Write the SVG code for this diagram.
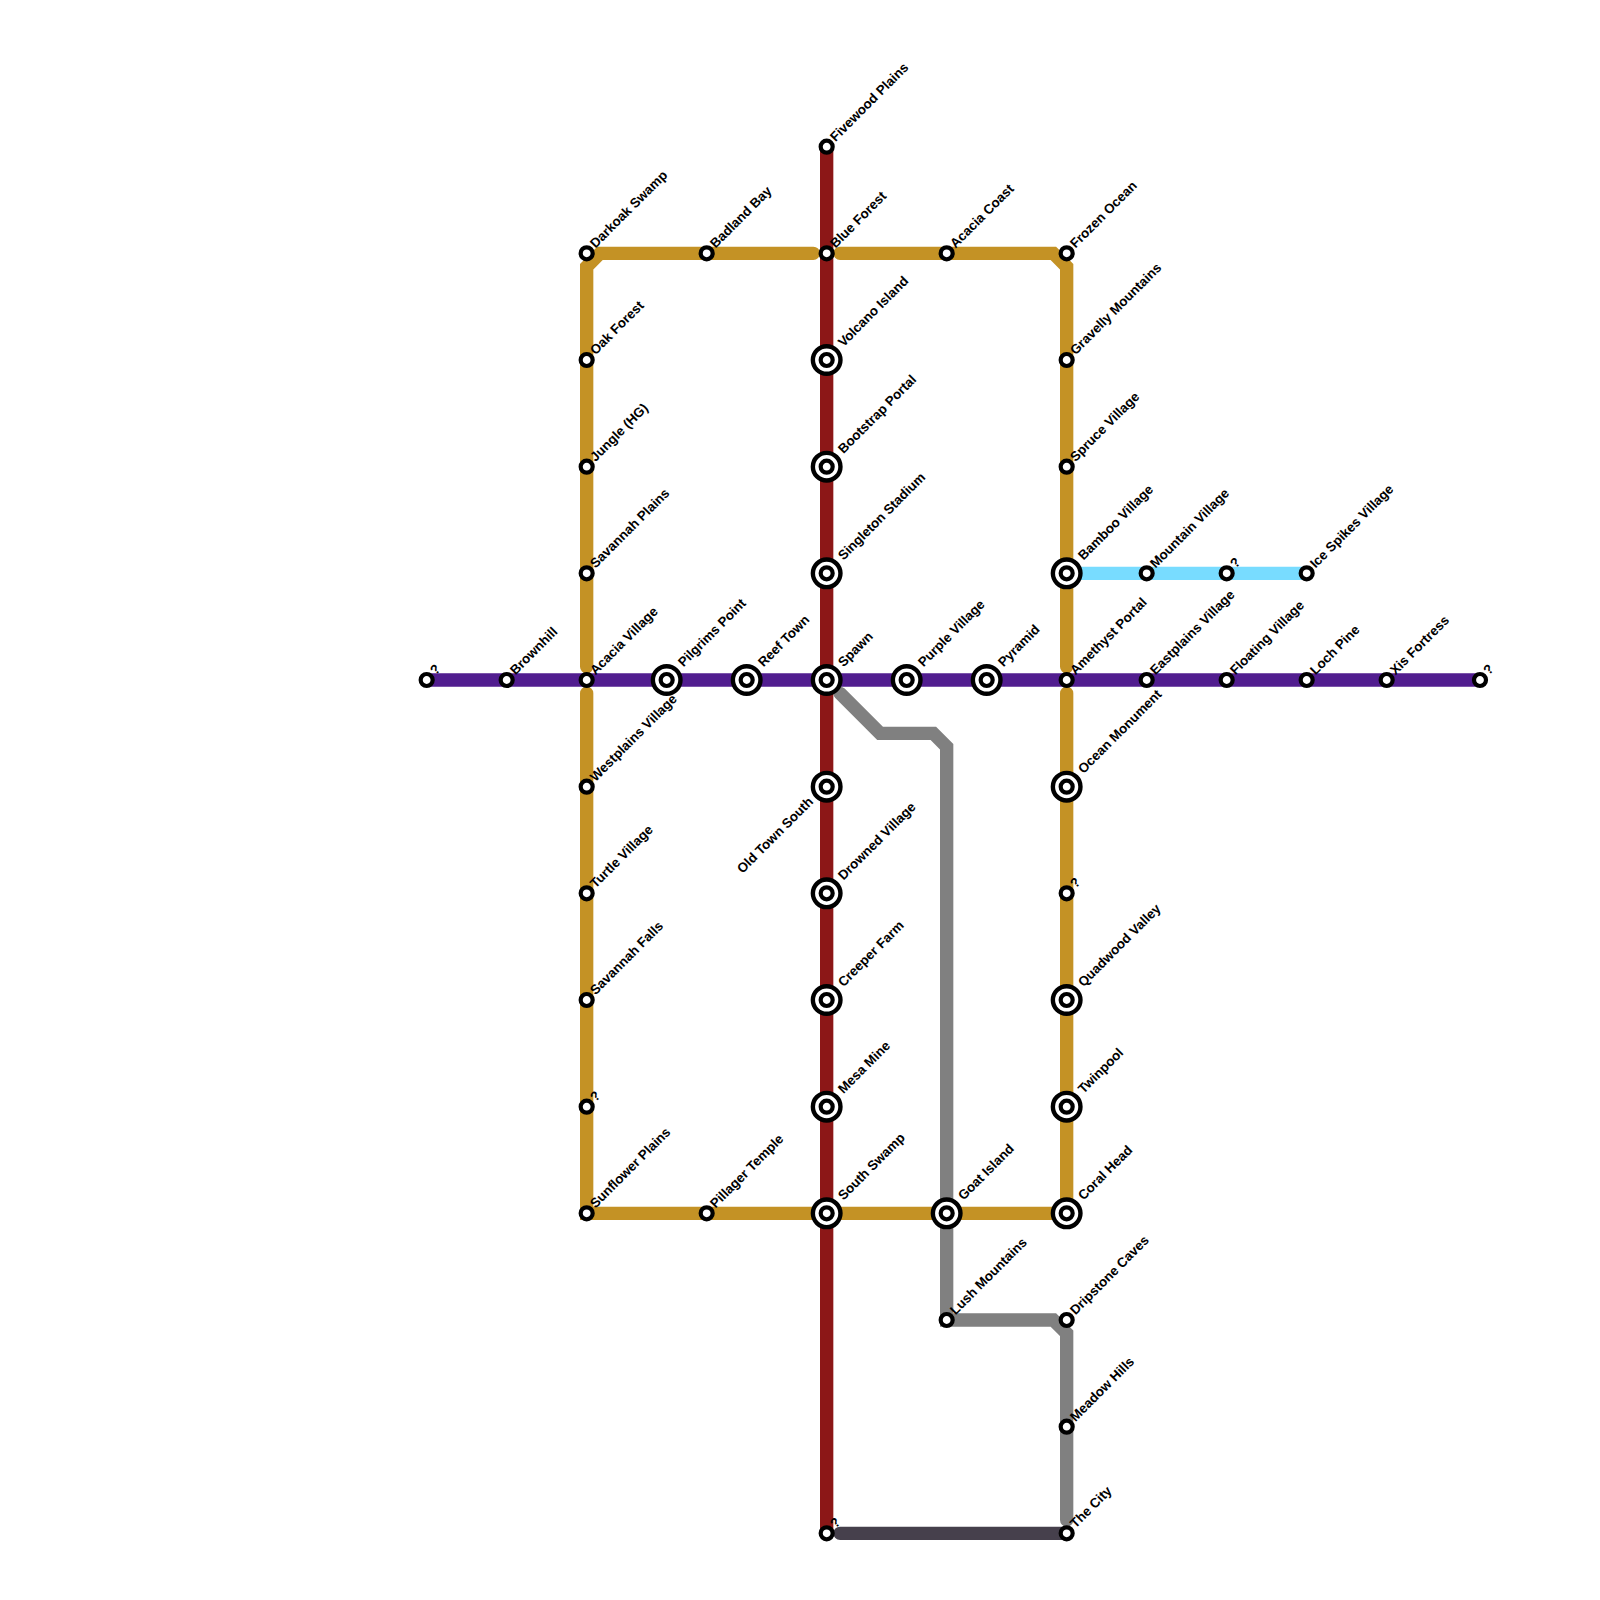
<svg xmlns="http://www.w3.org/2000/svg" width="1600" height="1600" viewBox="0 0 1600 1600">
<defs><style>
.l{fill:none;stroke-width:13.33;stroke-linecap:round;stroke-linejoin:miter}
.o{fill:#fff;stroke:#000;stroke-width:4.2}
.r{fill:#fff;stroke:#000;stroke-width:4.4}
.t{font-family:"Liberation Sans",Arial,sans-serif;font-size:13.33px;font-weight:700;fill:#000;text-rendering:geometricPrecision}
</style>
<g id="s"><circle class="o" r="6"/></g>
<g id="b"><circle class="r" r="13.8"/><circle class="o" r="6"/></g>
</defs>
<rect width="1600" height="1600" fill="#fff"/>
<g id="connectors">
<path class="l" stroke="#c49225" d="M813.33 253.33H600L586.67 266.67V666.67M840 253.33H1053.33L1066.67 266.67V666.67M1066.67 693.33V1213.33H586.67V693.33"/>
<path class="l" stroke="#808080" d="M840 693.33L880 733.33H933.33L946.67 746.67V1320H1053.33L1066.67 1333.33V1520"/>
<path class="l" stroke="#46404c" d="M840 1533.33H1066.67"/>
<path class="l" stroke="#78dcff" d="M1066.67 573.33H1306.67"/>
<path class="l" stroke="#8c1717" style="stroke-linecap:butt" d="M826.67 146.67V1533.33"/>
<path class="l" stroke="#511d8f" d="M426.67 680H1480"/>
</g>
<g id="n1"><use href="#s" x="826.67" y="146.67"/><text class="t" transform="translate(835.4 142.17) rotate(-45)">Fivewood Plains</text></g>
<g id="n2"><use href="#s" x="586.67" y="253.33"/><text class="t" transform="translate(595.4 248.83) rotate(-45)">Darkoak Swamp</text></g>
<g id="n3"><use href="#s" x="706.67" y="253.33"/><text class="t" transform="translate(715.4 248.83) rotate(-45)">Badland Bay</text></g>
<g id="n4"><use href="#s" x="826.67" y="253.33"/><text class="t" transform="translate(835.4 248.83) rotate(-45)">Blue Forest</text></g>
<g id="n5"><use href="#s" x="946.67" y="253.33"/><text class="t" transform="translate(955.4 248.83) rotate(-45)">Acacia Coast</text></g>
<g id="n6"><use href="#s" x="1066.67" y="253.33"/><text class="t" transform="translate(1075.4 248.83) rotate(-45)">Frozen Ocean</text></g>
<g id="n7"><use href="#s" x="586.67" y="360"/><text class="t" transform="translate(595.4 355.5) rotate(-45)">Oak Forest</text></g>
<g id="n8"><use href="#b" x="826.67" y="360"/><text class="t" transform="translate(843.4 347.5) rotate(-45)">Volcano Island</text></g>
<g id="n9"><use href="#s" x="1066.67" y="360"/><text class="t" transform="translate(1075.4 355.5) rotate(-45)">Gravelly Mountains</text></g>
<g id="n10"><use href="#s" x="586.67" y="466.67"/><text class="t" transform="translate(595.4 462.17) rotate(-45)">Jungle (HG)</text></g>
<g id="n11"><use href="#b" x="826.67" y="466.67"/><text class="t" transform="translate(843.4 454.17) rotate(-45)">Bootstrap Portal</text></g>
<g id="n12"><use href="#s" x="1066.67" y="466.67"/><text class="t" transform="translate(1075.4 462.17) rotate(-45)">Spruce Village</text></g>
<g id="n13"><use href="#s" x="586.67" y="573.33"/><text class="t" transform="translate(595.4 568.83) rotate(-45)">Savannah Plains</text></g>
<g id="n14"><use href="#b" x="826.67" y="573.33"/><text class="t" transform="translate(843.4 560.83) rotate(-45)">Singleton Stadium</text></g>
<g id="n15"><use href="#b" x="1066.67" y="573.33"/><text class="t" transform="translate(1083.4 560.83) rotate(-45)">Bamboo Village</text></g>
<g id="n16"><use href="#s" x="1146.67" y="573.33"/><text class="t" transform="translate(1155.4 568.83) rotate(-45)">Mountain Village</text></g>
<g id="n17"><use href="#s" x="1226.67" y="573.33"/><text class="t" transform="translate(1235.4 568.83) rotate(-45)">?</text></g>
<g id="n18"><use href="#s" x="1306.67" y="573.33"/><text class="t" transform="translate(1315.4 568.83) rotate(-45)">Ice Spikes Village</text></g>
<g id="n19"><use href="#s" x="426.67" y="680"/><text class="t" transform="translate(435.4 675.5) rotate(-45)">?</text></g>
<g id="n20"><use href="#s" x="506.67" y="680"/><text class="t" transform="translate(515.4 675.5) rotate(-45)">Brownhill</text></g>
<g id="n21"><use href="#s" x="586.67" y="680"/><text class="t" transform="translate(595.4 675.5) rotate(-45)">Acacia Village</text></g>
<g id="n22"><use href="#b" x="666.67" y="680"/><text class="t" transform="translate(683.4 667.5) rotate(-45)">Pilgrims Point</text></g>
<g id="n23"><use href="#b" x="746.67" y="680"/><text class="t" transform="translate(763.4 667.5) rotate(-45)">Reef Town</text></g>
<g id="n24"><use href="#b" x="826.67" y="680"/><text class="t" transform="translate(843.4 667.5) rotate(-45)">Spawn</text></g>
<g id="n25"><use href="#b" x="906.67" y="680"/><text class="t" transform="translate(923.4 667.5) rotate(-45)">Purple Village</text></g>
<g id="n26"><use href="#b" x="986.67" y="680"/><text class="t" transform="translate(1003.4 667.5) rotate(-45)">Pyramid</text></g>
<g id="n27"><use href="#s" x="1066.67" y="680"/><text class="t" transform="translate(1075.4 675.5) rotate(-45)">Amethyst Portal</text></g>
<g id="n28"><use href="#s" x="1146.67" y="680"/><text class="t" transform="translate(1155.4 675.5) rotate(-45)">Eastplains Village</text></g>
<g id="n29"><use href="#s" x="1226.67" y="680"/><text class="t" transform="translate(1235.4 675.5) rotate(-45)">Floating Village</text></g>
<g id="n30"><use href="#s" x="1306.67" y="680"/><text class="t" transform="translate(1315.4 675.5) rotate(-45)">Loch Pine</text></g>
<g id="n31"><use href="#s" x="1386.67" y="680"/><text class="t" transform="translate(1395.4 675.5) rotate(-45)">Xis Fortress</text></g>
<g id="n32"><use href="#s" x="1480" y="680"/><text class="t" transform="translate(1488.7 675.5) rotate(-45)">?</text></g>
<g id="n33"><use href="#s" x="586.67" y="786.67"/><text class="t" transform="translate(595.4 782.17) rotate(-45)">Westplains Village</text></g>
<g id="n34"><use href="#b" x="826.67" y="786.67"/><text class="t" text-anchor="end" transform="translate(814 802.5) rotate(-45)">Old Town South</text></g>
<g id="n35"><use href="#b" x="1066.67" y="786.67"/><text class="t" transform="translate(1083.4 774.17) rotate(-45)">Ocean Monument</text></g>
<g id="n36"><use href="#s" x="586.67" y="893.33"/><text class="t" transform="translate(595.4 888.83) rotate(-45)">Turtle Village</text></g>
<g id="n37"><use href="#b" x="826.67" y="893.33"/><text class="t" transform="translate(843.4 880.83) rotate(-45)">Drowned Village</text></g>
<g id="n38"><use href="#s" x="1066.67" y="893.33"/><text class="t" transform="translate(1075.4 888.83) rotate(-45)">?</text></g>
<g id="n39"><use href="#s" x="586.67" y="1000"/><text class="t" transform="translate(595.4 995.5) rotate(-45)">Savannah Falls</text></g>
<g id="n40"><use href="#b" x="826.67" y="1000"/><text class="t" transform="translate(843.4 987.5) rotate(-45)">Creeper Farm</text></g>
<g id="n41"><use href="#b" x="1066.67" y="1000"/><text class="t" transform="translate(1083.4 987.5) rotate(-45)">Quadwood Valley</text></g>
<g id="n42"><use href="#s" x="586.67" y="1106.67"/><text class="t" transform="translate(595.4 1102.17) rotate(-45)">?</text></g>
<g id="n43"><use href="#b" x="826.67" y="1106.67"/><text class="t" transform="translate(843.4 1094.17) rotate(-45)">Mesa Mine</text></g>
<g id="n44"><use href="#b" x="1066.67" y="1106.67"/><text class="t" transform="translate(1083.4 1094.17) rotate(-45)">Twinpool</text></g>
<g id="n45"><use href="#s" x="586.67" y="1213.33"/><text class="t" transform="translate(595.4 1208.83) rotate(-45)">Sunflower Plains</text></g>
<g id="n46"><use href="#s" x="706.67" y="1213.33"/><text class="t" transform="translate(715.4 1208.83) rotate(-45)">Pillager Temple</text></g>
<g id="n47"><use href="#b" x="826.67" y="1213.33"/><text class="t" transform="translate(843.4 1200.83) rotate(-45)">South Swamp</text></g>
<g id="n48"><use href="#b" x="946.67" y="1213.33"/><text class="t" transform="translate(963.4 1200.83) rotate(-45)">Goat Island</text></g>
<g id="n49"><use href="#b" x="1066.67" y="1213.33"/><text class="t" transform="translate(1083.4 1200.83) rotate(-45)">Coral Head</text></g>
<g id="n50"><use href="#s" x="946.67" y="1320"/><text class="t" transform="translate(955.4 1315.5) rotate(-45)">Lush Mountains</text></g>
<g id="n51"><use href="#s" x="1066.67" y="1320"/><text class="t" transform="translate(1075.4 1315.5) rotate(-45)">Dripstone Caves</text></g>
<g id="n52"><use href="#s" x="1066.67" y="1426.67"/><text class="t" transform="translate(1075.4 1422.17) rotate(-45)">Meadow Hills</text></g>
<g id="n53"><use href="#s" x="826.67" y="1533.33"/><text class="t" transform="translate(835.4 1528.83) rotate(-45)">?</text></g>
<g id="n54"><use href="#s" x="1066.67" y="1533.33"/><text class="t" transform="translate(1075.4 1528.83) rotate(-45)">The City</text></g>
</svg>
